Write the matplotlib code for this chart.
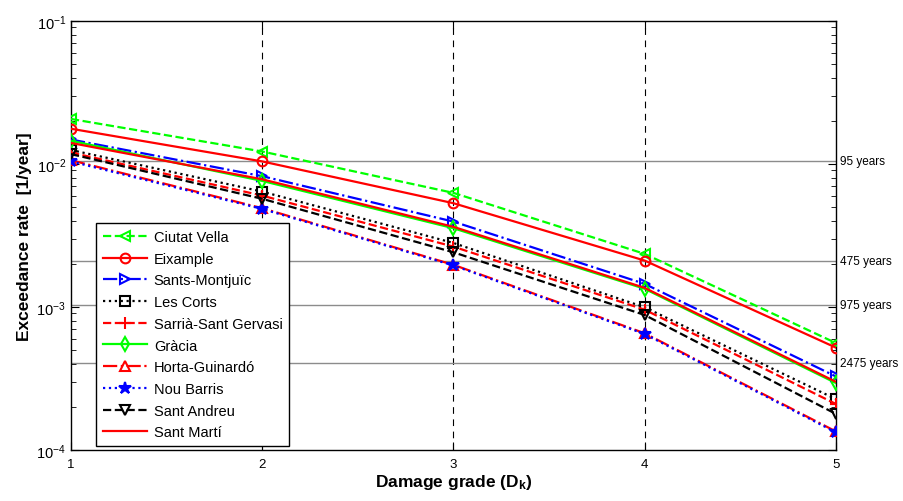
import matplotlib
matplotlib.use("Agg")
import matplotlib.pyplot as plt
import matplotlib.transforms as mtransforms

plt.rcParams['font.family'] = ['Liberation Sans', 'DejaVu Sans']
plt.rcParams['mathtext.fontset'] = 'custom'
plt.rcParams['mathtext.rm'] = 'Liberation Sans'
plt.rcParams['mathtext.it'] = 'Liberation Sans:italic'
plt.rcParams['mathtext.bf'] = 'Liberation Sans:bold'

# damage grades and exceedance rates [1/year] per district
damage_grade = [1, 2, 3, 4, 5]
ciutat_vella = [0.0206, 0.0122, 0.00627, 0.00235, 0.00056]
eixample = [0.0176, 0.0104, 0.00531, 0.00211, 0.00052]
sants_montjuic = [0.0148, 0.0082, 0.00395, 0.00145, 0.000327]
les_corts = [0.0125, 0.0064, 0.00280, 0.000995, 0.000227]
sarria = [0.0120, 0.0060, 0.00264, 0.000957, 0.000210]
gracia = [0.0145, 0.0076, 0.00355, 0.00134, 0.000294]
horta = [0.0106, 0.00490, 0.00197, 0.000655, 0.000135]
nou_barris = [0.0104, 0.00484, 0.00195, 0.000647, 0.000133]
sant_andreu = [0.0117, 0.0057, 0.00241, 0.000879, 0.000179]
sant_marti = [0.0140, 0.0078, 0.00363, 0.00136, 0.000300]

return_periods = [95, 475, 975, 2475]
ytick_vals = [1e-4, 1e-3, 1e-2, 1e-1]
ytick_labels = ["$10^{-4}$", "$10^{-3}$", "$10^{-2}$", "$10^{-1}$"]

series = [
    ("Ciutat Vella", ciutat_vella, "#00ff00", "--", "<", "none"),
    ("Eixample", eixample, "#ff0000", "-", "o", "none"),
    ("Sants-Montjuïc", sants_montjuic, "#0000ff", "-.", ">", "none"),
    ("Les Corts", les_corts, "#000000", ":", "s", "none"),
    ("Sarrià-Sant Gervasi", sarria, "#ff0000", "--", "+", "none"),
    ("Gràcia", gracia, "#00ff00", "-", "d", "none"),
    ("Horta-Guinardó", horta, "#ff0000", "-.", "^", "none"),
    ("Nou Barris", nou_barris, "#0000ff", ":", "*", "#0000ff"),
    ("Sant Andreu", sant_andreu, "#000000", "--", "v", "none"),
    ("Sant Martí", sant_marti, "#ff0000", "-", "", "none"),
]

fig = plt.figure(figsize=(9.04, 5.02), dpi=100)
ax = fig.add_axes([0.0785, 0.1016, 0.846, 0.855])

for x in [2, 3, 4]:
    ax.axvline(x, color='black', ls=(0, (6, 5)), lw=0.8, zorder=1)

trans = mtransforms.blended_transform_factory(ax.transAxes, ax.transData)
for T in return_periods:
    ax.axhline(1.0 / T, color='#8c8c8c', lw=1.0, zorder=1)
    ax.text(1.006, 1.0 / T, "%d years" % T, transform=trans, fontsize=8.5,
            va='center', ha='left')

for name, vals, col, ls, mk, fc in series:
    ms = 9 if mk in ("*", "+") else 7
    ax.plot(damage_grade, vals, color=col, ls=ls, marker=mk if mk else None,
            mfc=fc, mec=col, ms=ms, mew=1.5, lw=1.6, label=name, zorder=3)

ax.set_yscale('log')
ax.set_xlim(1, 5)
ax.set_ylim(1e-4, 1e-1)
ax.set_xticks(damage_grade)
ax.set_yticks(ytick_vals)
ax.set_yticklabels(ytick_labels)
ax.tick_params(which='both', direction='in', top=True, right=True)
ax.tick_params(axis='x', labelsize=9.5, pad=6)
ax.tick_params(axis='y', labelsize=10.5)
ax.tick_params(which='major', length=6)
ax.tick_params(which='minor', length=3.5)
for sp in ax.spines.values():
    sp.set_linewidth(1.0)

ax.set_xlabel("Damage grade (D$_\\mathbf{k}$)", fontsize=12.5, fontweight='bold', labelpad=1)
ax.set_ylabel("Exceedance rate  [1/year]", fontsize=12.5, fontweight='bold', labelpad=3)

leg = ax.legend(loc='lower left', bbox_to_anchor=(0.033, 0.0093), borderaxespad=0,
                fontsize=10.5, fancybox=False, framealpha=1, edgecolor='black',
                handlelength=3.0, handletextpad=0.5, labelspacing=0.53, borderpad=0.45)
leg.get_frame().set_linewidth(1.0)

fig.savefig("out.png", dpi=100)
